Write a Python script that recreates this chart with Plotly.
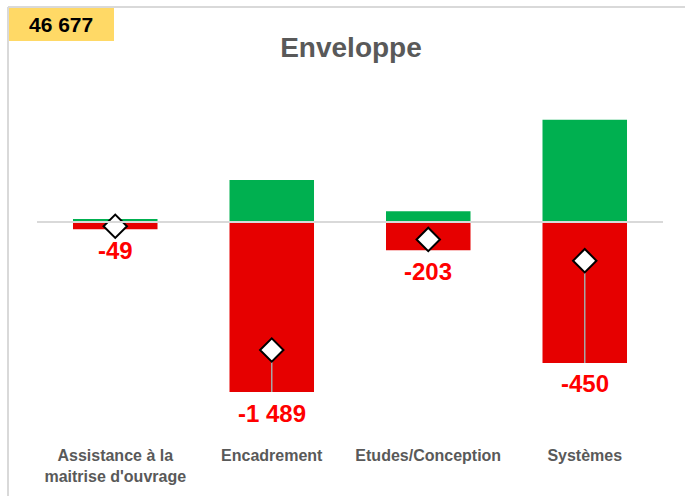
import plotly.graph_objects as go

categories = ["Assistance à la<br>maitrise d'ouvrage", "Encadrement", "Etudes/Conception", "Systèmes"]
gains = [35, 490, 125, 1190]
losses = [-84, -1979, -328, -1640]
net = [-49, -1489, -203, -450]
total_label = "46 677"
title_text = "Enveloppe"

FONT = "Liberation Sans, Arial, sans-serif"
GREEN = "#00B050"
RED = "#E60000"
FRAME = "#D9D9D9"


def fmt(v):
    return f"{v:,}".replace(",", " ")


fig = go.Figure()
fig.add_trace(go.Bar(x=categories, y=gains, marker=dict(color=GREEN, line=dict(width=0)),
                     width=0.54, hoverinfo="skip"))
fig.add_trace(go.Bar(x=categories, y=losses, marker=dict(color=RED, line=dict(width=0)),
                     width=0.54, hoverinfo="skip"))

# leader lines from the diamond to the label when the label sits far away
for c, n, l in zip(categories, net, losses):
    if abs(l - n) > 200:
        fig.add_trace(go.Scatter(x=[c, c], y=[n, l], mode="lines",
                                 line=dict(color="#A6A6A6", width=1.5), hoverinfo="skip"))

fig.add_trace(go.Scatter(x=categories, y=net, mode="markers",
                         marker=dict(symbol="diamond", size=18, color="white",
                                     line=dict(color="black", width=2)),
                         hoverinfo="skip"))

for c, n, l in zip(categories, net, losses):
    fig.add_annotation(x=c, y=l, text=f"<b>{fmt(n)}</b>", showarrow=False,
                       yanchor="middle", yshift=-21,
                       font=dict(family=FONT, size=24, color="#FF0000"))

# zero line over the bars
fig.add_shape(type="line", xref="paper", x0=0, x1=1, yref="y", y0=0, y1=0,
              line=dict(color=FRAME, width=2), layer="above")

# chart frame (top and left edges)
fig.add_shape(type="line", xref="paper", yref="paper", x0=-0.0463, x1=1.04, y0=1.237, y1=1.237,
              line=dict(color=FRAME, width=2))
fig.add_shape(type="line", xref="paper", yref="paper", x0=-0.0463, x1=-0.0463, y0=1.237, y1=-0.17,
              line=dict(color=FRAME, width=2))

# total box
fig.add_shape(type="rect", xref="paper", yref="paper", x0=-0.0447, x1=0.123, y0=1.234, y1=1.14,
              fillcolor="#FFD966", line=dict(width=0))
fig.add_annotation(xref="paper", yref="paper", x=0.0383, y=1.186, text=f"<b>{total_label}</b>",
                   showarrow=False, xanchor="center", yanchor="middle",
                   font=dict(family=FONT, size=21, color="black"))

fig.update_layout(
    width=685, height=496,
    margin=dict(l=37, r=22, t=90, b=56),
    barmode="relative",
    showlegend=False,
    plot_bgcolor="white",
    paper_bgcolor="white",
    title=dict(text=f"<b>{title_text}</b>", x=0.5124, xanchor="center", y=0.905, yanchor="middle",
               font=dict(family=FONT, size=28, color="#595959")),
    xaxis=dict(showgrid=False, showline=False, ticks="", zeroline=False,
               tickfont=dict(family=FONT, size=16, color="#595959"), ticklabelstandoff=4),
    yaxis=dict(range=[-2536, 1536], visible=False, showgrid=False, zeroline=False),
)
fig.update_xaxes(tickvals=categories,
                 ticktext=[f"<b>{c}</b>".replace("<br>", "</b><br><b>") for c in categories])

fig.write_html("out.html", config={"displayModeBar": False},
               post_script="document.body.style.margin='0px';")
